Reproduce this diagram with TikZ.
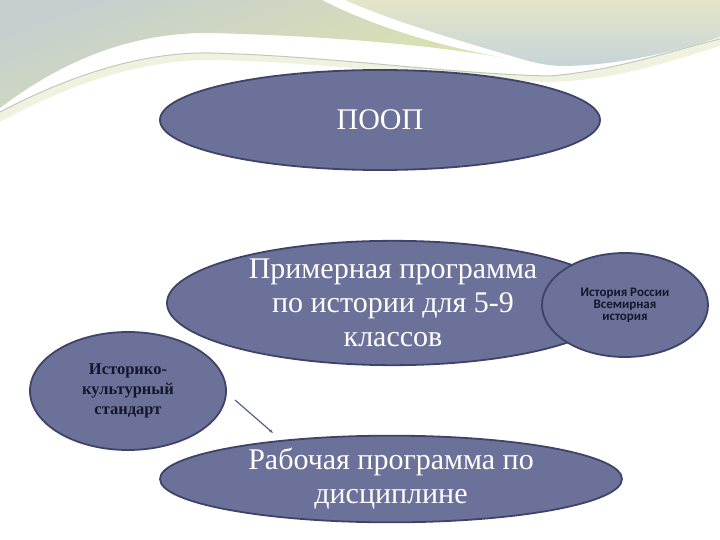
\documentclass[tikz,border=0pt]{standalone}
\usepackage{fontspec}
\setmainfont{Liberation Serif}
\newfontfamily\smallsans{Carlito}
\usetikzlibrary{shapes.geometric,arrows.meta}
\definecolor{ellfill}{HTML}{6B7199}
\definecolor{elldraw}{HTML}{3E4468}
\definecolor{darktext}{HTML}{14162A}
\definecolor{arrcol}{HTML}{5A6080}
\definecolor{bandA}{RGB}{198,207,206}
\definecolor{bandB}{RGB}{222,230,170}
\definecolor{bandC}{RGB}{228,230,200}
\definecolor{bandD}{RGB}{198,212,216}
\definecolor{bandE}{RGB}{238,242,222}
\definecolor{bandline}{RGB}{195,200,188}
\tikzset{
  oval/.style={ellipse, draw=elldraw, line width=1.8pt, fill=ellfill, inner sep=0pt, align=center},
  bigtext/.style={text=white, font=\fontsize{30}{34}\selectfont},
  midtext/.style={text=darktext, font=\bfseries\fontsize{16.5}{20}\selectfont},
  tinytext/.style={text=darktext, font=\smallsans\bfseries\fontsize{13}{12}\selectfont},
  arr/.style={draw=arrcol, line width=1.2pt, -{Stealth[length=4pt,width=3pt]}}
}
\begin{document}
\begin{tikzpicture}[x=1pt,y=-1pt]
\useasboundingbox (0,0) rectangle (720,540);
\fill[white] (0,0) rectangle (720,540);
% decorative top band
\shade[top color=bandA, bottom color=bandB, shading angle=20]
  (0,0) -- (322,0) .. controls (380,30) and (450,48) .. (505,58)
  .. controls (430,45) and (330,36) .. (210,33)
  .. controls (120,32) and (50,70) .. (0,108) -- cycle;
\shade[top color=bandC, bottom color=bandD]
  (345,0) -- (720,0) -- (720,37) .. controls (680,50) and (620,66) .. (560,66)
  .. controls (540,65) and (525,60) .. (515,57)
  .. controls (450,38) and (390,20) .. (345,0) -- cycle;
\fill[bandE]
  (0,112) .. controls (80,70) and (150,52) .. (210,53)
  .. controls (330,56) and (450,74) .. (550,76)
  .. controls (620,70) and (680,48) .. (720,39)
  -- (720,46) .. controls (680,58) and (620,80) .. (550,82)
  .. controls (450,80) and (330,62) .. (210,60)
  .. controls (150,60) and (80,78) .. (0,122) -- cycle;
\draw[bandline, line width=1pt]
  (0,112) .. controls (80,70) and (150,52) .. (210,53)
  .. controls (330,56) and (450,74) .. (550,76)
  .. controls (620,70) and (680,48) .. (720,39);
% ellipses
\node[oval, bigtext, minimum width=440pt, minimum height=100pt] (poop) at (380,120) {ПООП};
\node[oval, bigtext, minimum width=452pt, minimum height=112pt] (prim) at (393,303) {Примерная программа\\по истории для 5-9\\классов};
\node[oval, tinytext, minimum width=166pt, minimum height=104pt] (hist) at (625,305) {История России\\Всемирная\\история};
\node[oval, midtext, minimum width=196pt, minimum height=118pt] (ist) at (128,391) {Историко-\\культурный\\стандарт};
\node[oval, bigtext, minimum width=462pt, minimum height=68pt] (rab) at (391,479) {Рабочая программа по\\дисциплине};
% arrow
\coordinate (a1) at (235,400);
\coordinate (a2) at (273,433);
\draw[arr] (a1) -- (a2);
\end{tikzpicture}
\end{document}
